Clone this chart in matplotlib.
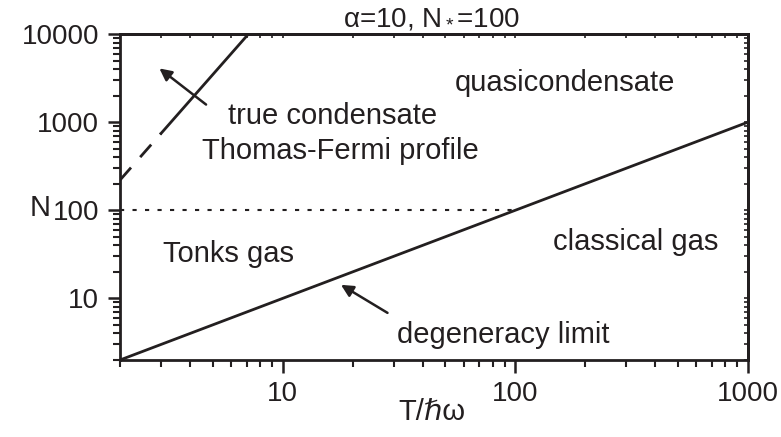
import numpy as np
import matplotlib
matplotlib.use("Agg")
import matplotlib.pyplot as plt
from matplotlib import ticker

plt.rcParams['font.family'] = ['Liberation Sans', 'DejaVu Sans']
plt.rcParams['mathtext.fontset'] = 'custom'
plt.rcParams['mathtext.rm'] = 'Liberation Sans'
plt.rcParams['mathtext.it'] = 'Liberation Sans:italic'

# phase boundaries
degeneracy_T = [2, 1000]
degeneracy_N = [2, 1000]

tf_dashed_T = [2, 3.0]
tf_dashed_N = [220, 743]
tf_solid_T = [3.0, 7.13]
tf_solid_N = [743, 10000]

tonks_T = [2, 100]
tonks_N = [100, 100]

x_ticks = [10, 100, 1000]
y_ticks = [10, 100, 1000, 10000]

W, H = 781, 437
fig = plt.figure(figsize=(W / 100, H / 100), dpi=100)
ax = fig.add_axes([120 / W, 1 - 360 / H, 628 / W, 326 / H])
ax.set_xscale('log')
ax.set_yscale('log')
ax.set_xlim(2, 1000)
ax.set_ylim(2, 10000)

tc = '#231f20'
lw = 2.0
ax.plot(degeneracy_T, degeneracy_N, color=tc, lw=lw)
ax.plot(tf_dashed_T, tf_dashed_N, color=tc, lw=lw, dashes=(6, 5))
ax.plot(tf_solid_T, tf_solid_N, color=tc, lw=lw)
ax.plot(tonks_T, tonks_N, color=tc, lw=1.5, dashes=(2, 4))

# arrows
ax.annotate('', xy=(2.89, 4254), xytext=(4.79, 1514),
            arrowprops=dict(arrowstyle='-|>', color=tc, lw=1.8,
                            mutation_scale=18))
ax.annotate('', xy=(17.4, 14.8), xytext=(28.9, 6.6),
            arrowprops=dict(arrowstyle='-|>', color=tc, lw=1.8,
                            mutation_scale=18))

fs = 21
labels = [
    ('true condensate', 0.172, 0.724),
    ('Thomas-Fermi profile', 0.1306, 0.617),
    ('quasicondensate', 0.533, 0.825),
    ('Tonks gas', 0.068, 0.301),
    ('classical gas', 0.69, 0.337),
    ('degeneracy limit', 0.441, 0.052),
]
for txt, x, y in labels:
    ax.text(x, y, txt, transform=ax.transAxes, fontsize=fs, color=tc, va='baseline')

fig.text(432 / W, 1 - 27 / H, r'α=10, N$_*$=100', fontsize=20, color=tc,
         ha='center', va='baseline')
fig.text(432 / W, 1 - 420 / H, 'T/ℏω', fontsize=fs, color=tc,
         ha='center', va='baseline')
fig.text(40 / W, 1 - 208 / H, 'N', fontsize=fs, color=tc,
         ha='center', va='center')

ax.set_xticks(x_ticks)
ax.set_xticklabels([str(t) for t in x_ticks])
ax.set_yticks(y_ticks)
ax.set_yticklabels([str(t) for t in y_ticks])
ax.xaxis.set_minor_formatter(ticker.NullFormatter())
ax.yaxis.set_minor_formatter(ticker.NullFormatter())

for s in ax.spines.values():
    s.set_linewidth(2)
    s.set_color(tc)

ax.tick_params(which='major', direction='out', length=9, width=1.8,
               labelsize=20, colors=tc, pad=6)
ax.tick_params(which='minor', direction='out', length=5, width=1.5, colors=tc)

# small inward ticks on the top and right spines
top = ax.secondary_xaxis('top')
right = ax.secondary_yaxis('right')
for sec in (top, right):
    sec.tick_params(which='both', direction='in', length=3, width=1.2,
                    colors=tc, labelsize=0)
    sec.set_xticklabels([]) if sec is top else sec.set_yticklabels([])
    sec.spines[:].set_linewidth(2)
top.xaxis.set_minor_formatter(ticker.NullFormatter())
right.yaxis.set_minor_formatter(ticker.NullFormatter())

fig.savefig('out.png', dpi=100)
